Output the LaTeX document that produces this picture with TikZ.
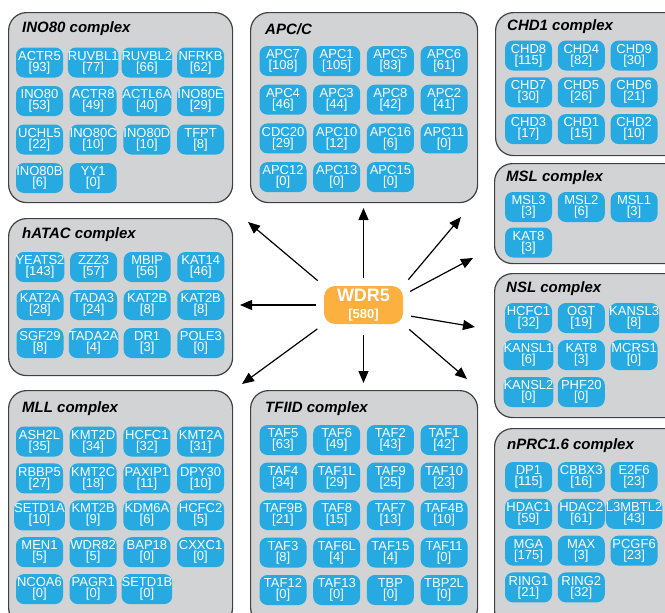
\documentclass[tikz,border=0pt]{standalone}
\usepackage{fontspec}
\setmainfont{Liberation Sans}
\usetikzlibrary{arrows.meta,positioning}
\definecolor{boxgray}{RGB}{209,211,212}
\definecolor{boxline}{RGB}{65,64,66}
\definecolor{protblue}{RGB}{39,170,225}
\definecolor{huborange}{RGB}{251,176,64}
\tikzstyle{complex}=[rectangle,rounded corners=18pt,draw=boxline,line width=1.2pt,fill=boxgray,anchor=north west]
\tikzstyle{title}=[anchor=west,inner sep=0pt,font=\bfseries\itshape\fontsize{15}{15}\selectfont]
\tikzstyle{protein}=[rectangle,rounded corners=8pt,fill=protblue,text=white,minimum width=47pt,minimum height=30pt,inner sep=0pt,align=center,font=\fontsize{13}{11}\selectfont]
\tikzstyle{hub}=[rectangle,rounded corners=11pt,fill=huborange,text=white,minimum width=79pt,minimum height=38pt,inner sep=0pt,align=center,font=\bfseries\fontsize{13}{17}\selectfont]
\tikzstyle{link}=[->,line width=1.2pt,shorten <=8pt]

\begin{document}
\begin{tikzpicture}[x=1pt,y=-1pt,>={Triangle[length=12pt,width=10pt]}]
  \useasboundingbox (0,0) rectangle (665,613);

  % INO80 complex
  \node[complex,minimum width=224pt,minimum height=190pt] (ino) at (8,12) {};
  \node[title] (ino-title) at (22,29) {INO80 complex};
  \foreach \name/\num [count=\i from 0] in {ACTR5/93,RUVBL1/77,RUVBL2/66,NFRKB/62,INO80/53,ACTR8/49,ACTL6A/40,INO80E/29,UCHL5/22,INO80C/10,INO80D/10,TFPT/8,INO80B/6,YY1/0}
    \node[protein] (ino-\i) at ({39.5+53.7*mod(\i,4)},{62.5+38.5*div(\i,4)}) {\name\\{}[\num]};

  % APC/C
  \node[complex,minimum width=227pt,minimum height=190pt] (apc) at (250,12) {};
  \node[title] (apc-title) at (265,29) {APC/C};
  \foreach \name/\num [count=\i from 0] in {APC7/108,APC1/105,APC5/83,APC6/61,APC4/46,APC3/44,APC8/42,APC2/41,CDC20/29,APC10/12,APC16/6,APC11/0,APC12/0,APC13/0,APC15/0}
    \node[protein] (apc-\i) at ({283+53.7*mod(\i,4)},{61+38.7*div(\i,4)}) {\name\\{}[\num]};

  % CHD1 complex
  \node[complex,minimum width=190pt,minimum height=143pt] (chd) at (495,12) {};
  \node[title] (chd-title) at (507,27) {CHD1 complex};
  \foreach \name/\num [count=\i from 0] in {CHD8/115,CHD4/82,CHD9/30,CHD7/30,CHD5/26,CHD6/21,CHD3/17,CHD1/15,CHD2/10}
    \node[protein] (chd-\i) at ({528.5+52.8*mod(\i,3)},{55.5+36.8*div(\i,3)}) {\name\\{}[\num]};

  % MSL complex
  \node[complex,minimum width=190pt,minimum height=100pt] (msl) at (494,163) {};
  \node[title] (msl-title) at (506,178) {MSL complex};
  \foreach \name/\num [count=\i from 0] in {MSL3/3,MSL2/6,MSL1/3,KAT8/3}
    \node[protein] (msl-\i) at ({528.5+52.8*mod(\i,3)},{207+35.5*div(\i,3)}) {\name\\{}[\num]};

  % NSL complex
  \node[complex,minimum width=190pt,minimum height=144pt] (nsl) at (494,273) {};
  \node[title] (nsl-title) at (506,289) {NSL complex};
  \foreach \name/\num [count=\i from 0] in {HCFC1/32,OGT/19,KANSL3/8,KANSL1/6,KAT8/3,MCRS1/0,KANSL2/0,PHF20/0}
    \node[protein] (nsl-\i) at ({528.5+52.8*mod(\i,3)},{318+37*div(\i,3)}) {\name\\{}[\num]};

  % nPRC1.6 complex
  \node[complex,minimum width=190pt,minimum height=200pt] (nprc) at (494,428) {};
  \node[title] (nprc-title) at (507,446) {nPRC1.6 complex};
  \foreach \name/\num [count=\i from 0] in {DP1/115,CBBX3/16,E2F6/23,HDAC1/59,HDAC2/61,L3MBTL2/43,MGA/175,MAX/3,PCGF6/23,RING1/21,RING2/32}
    \node[protein] (nprc-\i) at ({528.5+52.8*mod(\i,3)},{477+36.8*div(\i,3)}) {\name\\{}[\num]};

  % hATAC complex
  \node[complex,minimum width=224pt,minimum height=157pt] (hatac) at (8,218) {};
  \node[title] (hatac-title) at (22,235) {hATAC complex};
  \foreach \name/\num [count=\i from 0] in {YEATS2/143,ZZZ3/57,MBIP/56,KAT14/46,KAT2A/28,TADA3/24,KAT2B/8,KAT2B/8,SGF29/8,TADA2A/4,DR1/3,POLE3/0}
    \node[protein] (hatac-\i) at ({40+53.6*mod(\i,4)},{267+38*div(\i,4)}) {\name\\{}[\num]};

  % MLL complex
  \node[complex,minimum width=224pt,minimum height=235pt] (mll) at (8,390) {};
  \node[title] (mll-title) at (22,409) {MLL complex};
  \foreach \name/\num [count=\i from 0] in {ASH2L/35,KMT2D/34,HCFC1/32,KMT2A/31,RBBP5/27,KMT2C/18,PAXIP1/11,DPY30/10,SETD1A/10,KMT2B/9,KDM6A/6,HCFC2/5,MEN1/5,WDR82/5,BAP18/0,CXXC1/0,NCOA6/0,PAGR1/0,SETD1B/0}
    \node[protein] (mll-\i) at ({39.5+53.7*mod(\i,4)},{441.5+36.9*div(\i,4)}) {\name\\{}[\num]};

  % TFIID complex
  \node[complex,minimum width=227pt,minimum height=235pt] (tfiid) at (250,390) {};
  \node[title] (tfiid-title) at (265,409) {TFIID complex};
  \foreach \name/\num [count=\i from 0] in {TAF5/63,TAF6/49,TAF2/43,TAF1/42,TAF4/34,TAF1L/29,TAF9/25,TAF10/23,TAF9B/21,TAF8/15,TAF7/13,TAF4B/10,TAF3/8,TAF6L/4,TAF15/4,TAF11/0,TAF12/0,TAF13/0,TBP/0,TBP2L/0}
    \node[protein] (tfiid-\i) at ({283+53.7*mod(\i,4)},{440+37.5*div(\i,4)}) {\name\\{}[\num]};

  % WDR5 and its arrows
  \node[hub] (wdr5) at (363.5,305) {{\fontsize{18}{18}\selectfont WDR5}\\{}[580]};

  \coordinate (to-apc) at (363.5,208);
  \coordinate (to-tfiid) at (363.5,383);
  \coordinate (to-hatac) at (240,305);
  \coordinate (to-ino) at (248,222);
  \coordinate (to-mll) at (242,384);
  \coordinate (to-chd) at (461,217);
  \coordinate (to-msl) at (473,258);
  \coordinate (to-nsl) at (475,327);
  \coordinate (to-nprc) at (467,379);

  \draw[link] (wdr5.north) -- (to-apc);
  \draw[link,shorten <=11pt] (wdr5.south) -- (to-tfiid);
  \draw[link] (wdr5.west) -- (to-hatac);
  \draw[link] (wdr5.north west) -- (to-ino);
  \draw[link] (wdr5.south west) -- (to-mll);
  \draw[link] (wdr5.north east) -- (to-chd);
  \draw[link] (wdr5.14) -- (to-msl);
  \draw[link] (wdr5.-14) -- (to-nsl);
  \draw[link] (wdr5.south east) -- (to-nprc);
\end{tikzpicture}
\end{document}
